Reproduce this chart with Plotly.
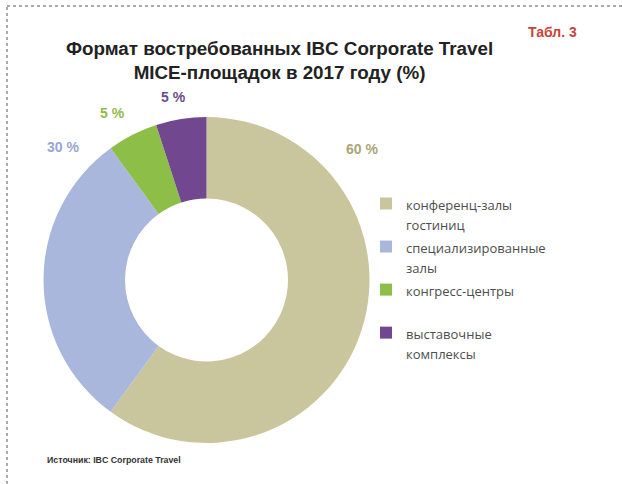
import plotly.graph_objects as go

categories = ["конференц-залы|гостиниц", "специализированные|залы", "конгресс-центры| ", "выставочные|комплексы"]
values = [60, 30, 5, 5]
label_texts = ["60 %", "30 %", "5 %", "5 %"]
slice_colors = ["#c9c69d", "#a9b7dc", "#8dbf48", "#71488f"]
label_colors = ["#aaa678", "#97a6d3", "#93b94a", "#6a4d8a"]
# label centres (pixels) as placed in the reference
label_px = [362, 63, 112, 173]
label_py = [149, 147, 113, 97]

W, H = 622, 484


def legend_name(c):
    return "<br>".join("<span style='font-size:13px'>" + part + "</span>" for part in c.split("|"))


fig = go.Figure()
fig.add_trace(go.Pie(
    labels=[legend_name(c) for c in categories], values=values, hole=0.5, sort=False,
    direction="clockwise", rotation=0, marker=dict(colors=slice_colors, line=dict(width=0)),
    textinfo="none", hoverinfo="label+percent",
    domain=dict(x=[43 / W, 370 / W], y=[1 - 443 / H, 1 - 117 / H]),
))

for t, c, px, py in zip(label_texts, label_colors, label_px, label_py):
    fig.add_annotation(x=px / W, y=1 - py / H, xref="paper", yref="paper", text="<b>" + t + "</b>",
                       showarrow=False, font=dict(family="Liberation Sans, Arial", size=14, color=c),
                       xanchor="center", yanchor="middle")

fig.add_annotation(x=279 / W, y=1 - 61 / H, xref="paper", yref="paper",
                   text="<b>Формат востребованных IBC Corporate Travel<br>MICE-площадок в 2017 году (%)</b>",
                   showarrow=False, align="center", xanchor="center", yanchor="middle",
                   font=dict(family="Liberation Sans, Arial", size=18.8, color="#222222"))
fig.add_annotation(x=552 / W, y=1 - 32 / H, xref="paper", yref="paper", text="<b>Табл. 3</b>",
                   showarrow=False, xanchor="center", yanchor="middle",
                   font=dict(family="Liberation Sans, Arial", size=14, color="#c8453a"))
fig.add_annotation(x=45 / W, y=1 - 460 / H, xref="paper", yref="paper",
                   text="<b>Источник: IBC Corporate Travel</b>",
                   showarrow=False, xanchor="left", yanchor="middle",
                   font=dict(family="Liberation Sans, Arial", size=8.8, color="#333333"))

# dotted frame (top and left edges)
fig.add_shape(type="line", xref="paper", yref="paper", x0=7 / W, x1=1, y0=1 - 6 / H, y1=1 - 6 / H,
              line=dict(color="#555555", width=1, dash="dot"))
fig.add_shape(type="line", xref="paper", yref="paper", x0=7 / W, x1=7 / W, y0=0, y1=1 - 6 / H,
              line=dict(color="#555555", width=1, dash="dot"))

fig.update_layout(
    width=W, height=H, margin=dict(l=0, r=0, t=0, b=0),
    paper_bgcolor="white", plot_bgcolor="white",
    legend=dict(x=366 / W, y=1 - 187 / H, xanchor="left", yanchor="top", valign="top",
                bgcolor="rgba(0,0,0,0)",
                font=dict(family="Open Sans", size=15.4, color="#4d4d4d"),
                itemwidth=30, traceorder="normal"),
)
fig.write_html("out.html", config={"displayModeBar": False},
               post_script="document.body.style.margin='0';")
